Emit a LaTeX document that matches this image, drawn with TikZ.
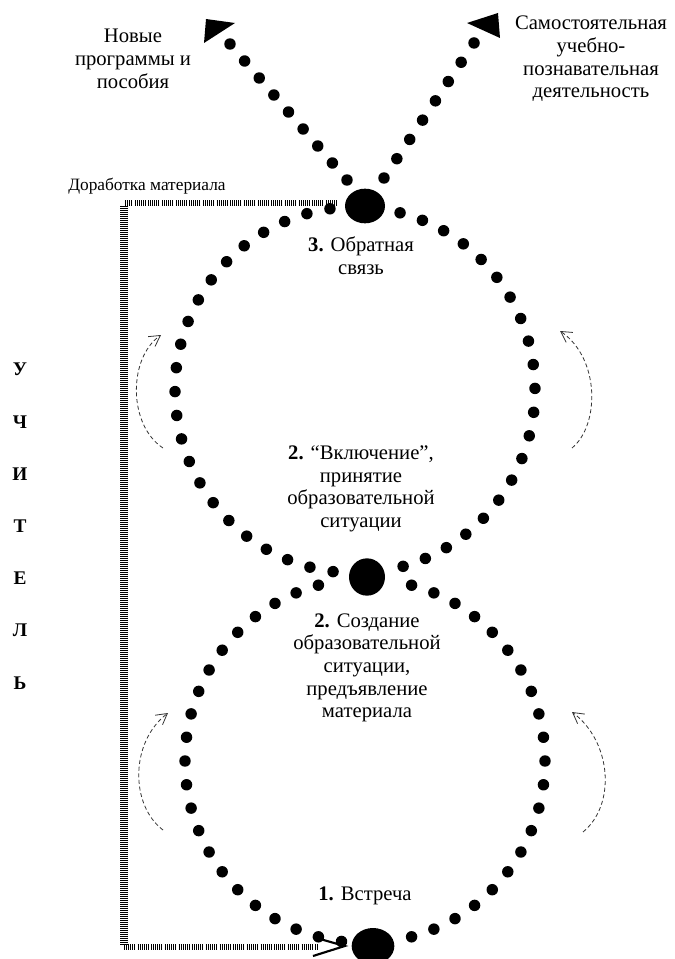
\documentclass[tikz,border=0pt]{standalone}
\usepackage{fontspec}
\setmainfont{Liberation Serif}
\usetikzlibrary{shapes.geometric,arrows.meta,calc}
\begin{document}
\begin{tikzpicture}[x=0.75pt,y=-0.75pt,
  bigdot/.style={ellipse, fill=black, inner sep=0pt},
  txt/.style={align=center, inner sep=0pt, font=\fontsize{15.5}{17}\selectfont},
  smalltxt/.style={inner sep=0pt, font=\fontsize{13}{15}\selectfont},
  letter/.style={inner sep=0pt, font=\fontsize{14.5}{16}\selectfont\bfseries},
  hatchv/.style={line width=5.5pt, dash pattern=on 0.75pt off 0.75pt},
  hatchh/.style={line width=5pt, dash pattern=on 0.75pt off 0.75pt on 0.75pt off 0.75pt on 0.75pt off 0.75pt on 0.75pt off 0.75pt on 0.75pt off 0.75pt on 0.75pt off 2pt},
  curvearr/.style={densely dashed, line width=0.6pt, black!80, -{Straight Barb[length=8pt,width=9pt,line width=0.6pt]}},
]
\useasboundingbox (0,0) rectangle (674,959);

% big dots
\node[bigdot, minimum width=30pt, minimum height=26pt] (top) at (365,206) {};
\node[bigdot, minimum width=27pt, minimum height=28pt] (mid) at (367,577) {};
\node[bigdot, minimum width=32pt, minimum height=27pt] (bot) at (373,946) {};

% upper dotted circle
\foreach \k in {0,...,47} {
  \pgfmathsetmacro{\a}{98+7.5*\k}
  \pgfmathsetmacro{\dA}{abs(mod(\a-86.9+540,360)-180)}
  \pgfmathsetmacro{\dB}{abs(mod(\a-273.7+540,360)-180)}
  \pgfmathtruncatemacro{\ok}{(\dA>9 && \dB>9) ? 1 : 0}
  \ifnum\ok=1
    \fill ({355+180*cos(\a)},{390-183*sin(\a)}) circle[radius=4.3pt];
  \fi
}
% lower dotted circle
\foreach \k in {0,...,47} {
  \pgfmathsetmacro{\a}{90+7.5*\k}
  \pgfmathsetmacro{\dA}{abs(mod(\a-89.4+540,360)-180)}
  \pgfmathsetmacro{\dB}{abs(mod(\a-272.5+540,360)-180)}
  \pgfmathtruncatemacro{\ok}{(\dA>9 && \dB>9) ? 1 : 0}
  \ifnum\ok=1
    \fill ({365+180*cos(\a)},{761-182*sin(\a)}) circle[radius=4.3pt];
  \fi
}

% diagonal dotted lines
\foreach \i in {0,...,8} {
  \fill ({347-14.625*\i},{180-17*\i}) circle[radius=4.3pt];
}
\foreach \i in {0,...,7} {
  \fill ({384+12.86*\i},{178-19.29*\i}) circle[radius=4.3pt];
}
% arrowheads at the ends of the diagonal lines
\fill (204,43) -- (206,19) -- (235,23) -- cycle;
\fill (467,23) -- (498,13) -- (500,38) -- cycle;

% texts
\node[txt] (newprog) at (133,59) {Новые\\программы и\\пособия};
\node[txt] (selfact) at (591,59) {Самостоятельная\\учебно-\\познавательная\\деятельность};
\node[smalltxt, anchor=west] (rework) at (68,186) {Доработка материала};
\node[txt] (feedback) at (361,256) {\textbf{3.} Обратная\\связь};
\node[txt] (incl) at (361,489) {\textbf{2.} “Включение”,\\принятие\\образовательной\\ситуации};
\node[txt] (create) at (367,668) {\textbf{2.} Создание\\образовательной\\ситуации,\\предъявление\\материала};
\node[txt] (meet) at (365,896) {\textbf{1.} Встреча};

% vertical word
\node[letter] (l1) at (20,369) {У};
\node[letter] (l2) at (20,422) {Ч};
\node[letter] (l3) at (20,474) {И};
\node[letter] (l4) at (20,526) {Т};
\node[letter] (l5) at (20,578) {Е};
\node[letter] (l6) at (20,630) {Л};
\node[letter] (l7) at (20,683) {Ь};

% hatched bracket (Доработка материала)
\coordinate (bstart) at (337,203);
\coordinate (bc1) at (124,203);
\coordinate (bc2) at (124,947);
\coordinate (bend) at (318,947);
\draw[hatchh] (bstart) -- (bc1);
\draw[hatchv] ([yshift=-2pt]bc1) -- ([yshift=2pt]bc2);
\draw[hatchh] (bc2) -- (bend);
\draw[line width=1.6pt] (313,937) -- ([xshift=-5pt]bot.west) -- (313,956);

% small curved arrows
\coordinate (ul1) at (163,448); \coordinate (ul2) at (161,335);
\coordinate (ur1) at (572,448); \coordinate (ur2) at (560,331);
\coordinate (ll1) at (163,830); \coordinate (ll2) at (168,713);
\coordinate (lr1) at (583,832); \coordinate (lr2) at (572,712);
\draw[curvearr] (ul1) .. controls (128,425) and (128,358) .. (ul2);
\draw[curvearr] (ur1) .. controls (600,425) and (600,358) .. (ur2);
\draw[curvearr] (ll1) .. controls (130,805) and (130,742) .. (ll2);
\draw[curvearr] (lr1) .. controls (616,805) and (612,742) .. (lr2);
\end{tikzpicture}
\end{document}
